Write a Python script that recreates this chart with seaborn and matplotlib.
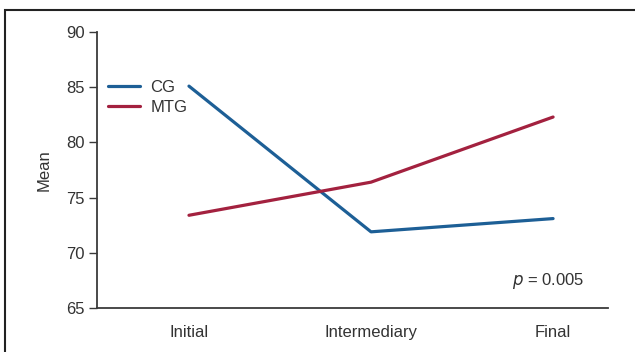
import matplotlib
matplotlib.use("Agg")
import matplotlib.pyplot as plt
from matplotlib.patches import Rectangle
import seaborn as sns
import pandas as pd

# Mean scores per assessment stage for each group
stages = ["Initial", "Intermediary", "Final"]
cg_means = [85.1, 71.9, 73.1]
mtg_means = [73.4, 76.4, 82.3]
groups = ["CG", "MTG"]
y_ticks = [65, 70, 75, 80, 85, 90]
p_label = "0.005"

df = pd.DataFrame({
    "Stage": stages * 2,
    "Mean": cg_means + mtg_means,
    "Group": [groups[0]] * len(stages) + [groups[1]] * len(stages),
})

sns.set_style("white")
plt.rcParams["font.family"] = ["Liberation Sans", "DejaVu Sans"]

fs = 12
fig = plt.figure(figsize=(6.35, 3.52), dpi=100)
ax = fig.add_axes([0.1528, 0.125, 0.957 - 0.1528, 0.909 - 0.125])

palette = {"CG": "#1d5f96", "MTG": "#a3213f"}
sns.lineplot(data=df, x="Stage", y="Mean", hue="Group", palette=palette,
             linewidth=2.3, ax=ax, sort=False)

ax.set_xlim(-0.505, 2.3)
ax.set_ylim(65, 90)
ax.set_yticks(y_ticks)
ax.set_xlabel("")
ax.set_ylabel("Mean", fontsize=fs, color="#333333", labelpad=10)

for side in ("top", "right"):
    ax.spines[side].set_visible(False)
for side in ("left", "bottom"):
    ax.spines[side].set_color("#3a3a3a")
    ax.spines[side].set_linewidth(1.3)

ax.tick_params(axis="y", which="both", left=True, length=5.5, width=1.0,
               color="#3a3a3a", labelsize=fs, labelcolor="#333333", pad=3.5)
ax.tick_params(axis="x", which="both", bottom=False, labelsize=fs,
               labelcolor="#333333", pad=9)

leg = ax.legend(loc="upper left", frameon=False, fontsize=fs,
                handlelength=1.9, handletextpad=0.65, labelspacing=0.3,
                bbox_to_anchor=(-0.008, 0.88))
for txt in leg.get_texts():
    txt.set_color("#333333")

ax.text(0.955, 0.097, "$\\it{p}$ = " + p_label, transform=ax.transAxes,
        ha="right", va="center", fontsize=fs, color="#333333")

# Thin frame around the figure
fig.patches.append(Rectangle((5 / 635, -0.1), 2.0, 1.1 - 10 / 352,
                             transform=fig.transFigure, fill=False,
                             edgecolor="#222222", linewidth=1.5))

fig.savefig("out.png", dpi=100)
